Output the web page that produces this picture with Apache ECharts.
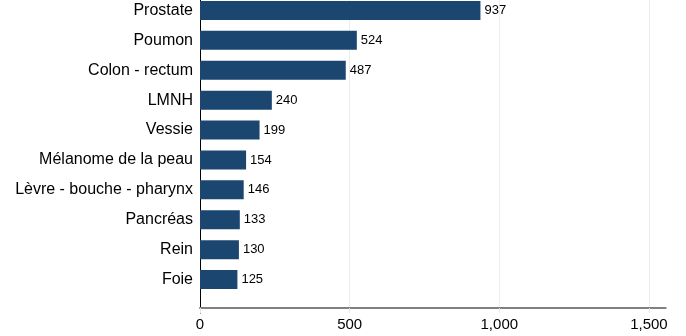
<!DOCTYPE html>
<html>
<head>
<meta charset="utf-8">
<script src="https://cdn.jsdelivr.net/npm/echarts@6/dist/echarts.min.js"></script>
<style>
  html, body { margin: 0; padding: 0; background: #fff; }
  #chart { width: 686px; height: 336px; }
</style>
</head>
<body>
<div id="chart"></div>
<script>
// Cancer sites, most frequent first
const categories = [
  'Prostate', 'Poumon', 'Colon - rectum', 'LMNH', 'Vessie',
  'Mélanome de la peau', 'Lèvre - bouche - pharynx', 'Pancréas', 'Rein', 'Foie'
];
const cases = [937, 524, 487, 240, 199, 154, 146, 133, 130, 125];
const xTicks = [0, 500, 1000, 1500];

const X_MAX = 1556;
const FONT = '"Liberation Sans", Arial, Helvetica, sans-serif';

const chart = echarts.init(document.getElementById('chart'), null, { renderer: 'canvas' });

chart.setOption({
  animation: false,
  textStyle: { fontFamily: FONT },
  grid: [
    // bars
    { left: 200, right: 20.3, top: -4.5, height: 299, outerBoundsMode: 'none', containLabel: false },
    // frame: vertical axis line and the numeric axis
    { left: 200, right: 20.3, top: -4.5, bottom: 23, outerBoundsMode: 'none', containLabel: false }
  ],
  xAxis: [
    {
      gridIndex: 0, type: 'value', min: 0, max: X_MAX,
      show: false
    },
    {
      gridIndex: 1, type: 'value', min: 0, max: X_MAX, offset: -5,
      axisLine: { show: true, lineStyle: { color: '#808080', width: 2 } },
      axisTick: {
        show: true, customValues: xTicks, length: 5,
        lineStyle: { color: '#dde6ea', width: 1 }
      },
      axisLabel: {
        customValues: xTicks,
        color: '#000', fontSize: 15, fontFamily: FONT, margin: 9,
        formatter: v => v.toLocaleString('en-US')
      },
      splitLine: { show: true, lineStyle: { color: '#e9eff1', width: 1 } }
    }
  ],
  yAxis: [
    {
      gridIndex: 0, type: 'category', data: categories, inverse: true,
      axisLine: { show: false },
      axisTick: { show: false },
      axisLabel: { color: '#000', fontSize: 16, fontFamily: FONT, margin: 7 }
    },
    {
      gridIndex: 1, type: 'value', min: 0, max: 1,
      axisLine: { show: true, lineStyle: { color: '#000', width: 1 } },
      axisTick: { show: false },
      axisLabel: { show: false },
      splitLine: { show: false }
    }
  ],
  series: [{
    type: 'bar',
    xAxisIndex: 0, yAxisIndex: 0,
    data: cases,
    barWidth: 19,
    itemStyle: { color: '#1b4670' },
    label: {
      show: true, position: 'right', distance: 4,
      color: '#000', fontSize: 13, fontFamily: FONT
    }
  }]
});
</script>
</body>
</html>
